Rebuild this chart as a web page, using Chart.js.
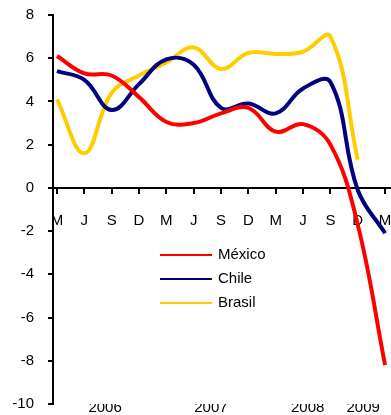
<!DOCTYPE html>
<html>
<head>
<meta charset="utf-8">
<script src="https://cdn.jsdelivr.net/npm/chart.js@4.4.1/dist/chart.umd.min.js"></script>
<style>
  html, body { margin: 0; padding: 0; background: #fff; }
  #wrap { width: 391px; height: 415px; }
</style>
</head>
<body>
<div id="wrap"><canvas id="chart"></canvas></div>
<script>
// trimestres mar 2006 - mar 2009
const quarters = ["M", "J", "S", "D", "M", "J", "S", "D", "M", "J", "S", "D", "M"];
const mexico = [6.1, 5.3, 5.2, 4.2, 3.05, 3.0, 3.45, 3.7, 2.6, 2.95, 2.0, -1.7, -8.2];
const chile = [5.4, 5.0, 3.6, 4.8, 5.95, 5.7, 3.7, 3.9, 3.45, 4.6, 4.9, -0.1, -2.1];
const brasil = [4.1, 1.6, 4.4, 5.2, 5.8, 6.5, 5.5, 6.25, 6.2, 6.3, 7.0, 1.3, null];
const yTicks = [8, 6, 4, 2, 0, -2, -4, -6, -8, -10];
const years = ["2006", "2007", "2008", "2009"];
const yearPos = [1.76, 5.63, 9.17, 11.2];

const font = { family: "'Liberation Sans', Arial, sans-serif", size: 15 };
Chart.defaults.font.family = font.family;
Chart.defaults.color = "#000";

function points(arr) {
  return arr.map((v, i) => ({ x: i, y: v }));
}

// sin relleno extra alrededor del area del grafico
function noPad(s) {
  s.paddingLeft = 0;
  s.paddingRight = 0;
  s.paddingTop = 0;
  s.paddingBottom = 0;
}

// leyenda dentro del area del grafico
const legendInside = {
  id: "legendInside",
  afterDatasetsDraw(chart) {
    const { ctx, chartArea } = chart;
    const x0 = chartArea.left + 107;
    let y = chartArea.top + 240;
    ctx.save();
    ctx.font = "15px 'Liberation Sans', Arial, sans-serif";
    ctx.textBaseline = "middle";
    chart.data.datasets.forEach((ds) => {
      ctx.strokeStyle = ds.borderColor;
      ctx.lineWidth = 2;
      ctx.beginPath();
      ctx.moveTo(x0, y);
      ctx.lineTo(x0 + 52, y);
      ctx.stroke();
      ctx.fillStyle = "#000";
      ctx.fillText(ds.label, x0 + 58, y);
      y += 24;
    });
    ctx.restore();
  },
};

const ctx = document.getElementById("chart").getContext("2d");
new Chart(ctx, {
  type: "line",
  data: {
    datasets: [
      { label: "México", data: points(mexico), borderColor: "#FF0000" },
      { label: "Chile", data: points(chile), borderColor: "#000080" },
      { label: "Brasil", data: points(brasil), borderColor: "#FFCC00" },
    ],
  },
  options: {
    responsive: true,
    maintainAspectRatio: false,
    animation: false,
    layout: { padding: { top: 15, right: 1, left: 0, bottom: 0 } },
    elements: {
      line: { borderWidth: 4, tension: 0.4, fill: false },
      point: { radius: 0 },
    },
    scales: {
      x: {
        type: "linear",
        min: -0.146,
        max: 12.18,
        position: { y: 0 },
        afterBuildTicks: (s) => {
          s.ticks = quarters.map((q, i) => ({ value: i }));
        },
        afterFit: noPad,
        ticks: {
          callback: (v, i) => quarters[i],
          padding: 19,
          font: font,
          maxRotation: 0,
          autoSkip: false,
        },
        grid: { drawOnChartArea: false, tickLength: 5, color: "#000", lineWidth: 2 },
        border: { color: "#000", width: 2 },
      },
      x2: {
        type: "linear",
        min: -0.146,
        max: 12.18,
        position: "bottom",
        afterBuildTicks: (s) => {
          s.ticks = yearPos.map((v) => ({ value: v }));
        },
        afterFit: (s) => {
          noPad(s);
          s.height = 11;
        },
        ticks: {
          callback: (v, i) => years[i],
          padding: -5,
          font: font,
          maxRotation: 0,
          autoSkip: false,
        },
        grid: { display: false, drawTicks: false },
        border: { display: false },
      },
      y: {
        min: -10,
        max: 8,
        afterBuildTicks: (s) => {
          s.ticks = yTicks.map((v) => ({ value: v }));
        },
        afterFit: (s) => {
          noPad(s);
          s.width = 53;
        },
        ticks: { padding: 14, font: font },
        grid: { drawOnChartArea: false, tickLength: 5, color: "#000", lineWidth: 2 },
        border: { color: "#000", width: 2 },
      },
    },
    plugins: {
      legend: { display: false },
      tooltip: { enabled: false },
    },
  },
  plugins: [legendInside],
});
</script>
</body>
</html>
